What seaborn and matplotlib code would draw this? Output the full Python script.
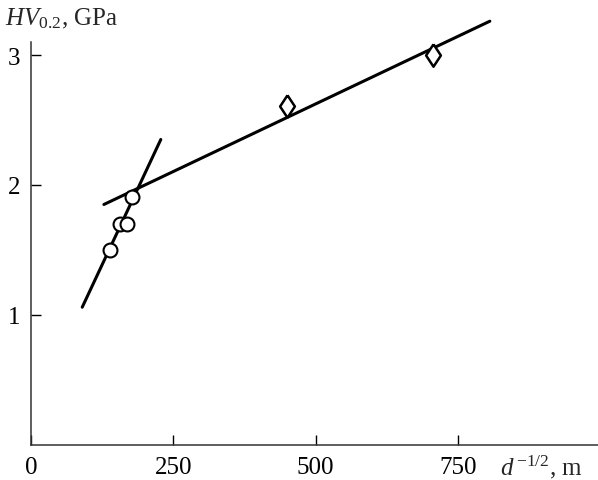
import matplotlib
matplotlib.use("Agg")
import matplotlib.pyplot as plt
import seaborn as sns
import pandas as pd

# measured points
circle_x = [139, 156, 169, 177]
circle_y = [1.50, 1.70, 1.70, 1.91]
diamond_x = [450, 707]
diamond_y = [2.61, 3.00]

# fitted lines (end points)
steep_x = [90, 228]
steep_y = [1.06, 2.35]
flat_x = [128, 806]
flat_y = [1.85, 3.26]

x_ticks = [0, 250, 500, 750]
y_ticks = [1, 2, 3]

sns.set_style("ticks")
plt.rcParams['font.family'] = ['Liberation Serif', 'DejaVu Serif']
plt.rcParams['mathtext.fontset'] = 'custom'
plt.rcParams['mathtext.rm'] = 'Liberation Serif'
plt.rcParams['mathtext.it'] = 'Liberation Serif:italic'

fig = plt.figure(figsize=(5.98, 4.81), dpi=100)
ax = fig.add_axes([31 / 598, 35 / 481, 1 - 31 / 598, 403 / 481])

lines = pd.DataFrame({
    "x": steep_x + flat_x,
    "y": steep_y + flat_y,
    "fit": ["steep"] * 2 + ["flat"] * 2,
})
sns.lineplot(data=lines, x="x", y="y", units="fit", estimator=None,
             color="black", linewidth=2.2, ax=ax, legend=False)
for ln in ax.lines:
    ln.set_clip_on(False)

# wider diamond, like the one in the print
diamond = [(0, 1), (0.66, 0), (0, -1), (-0.66, 0), (0, 1)]

sns.scatterplot(x=circle_x, y=circle_y, marker="o", s=100, facecolor="white",
                edgecolor="black", linewidth=1.5, ax=ax, zorder=3)
sns.scatterplot(x=diamond_x, y=diamond_y, marker=diamond, s=260, facecolor="white",
                edgecolor="black", linewidth=1.8, ax=ax, zorder=3)

ax.set_xlim(0, 996)
ax.set_ylim(0, 3.1)
ax.set_xticks(x_ticks)
ax.set_yticks(y_ticks)
ax.tick_params(direction="in", length=7, width=1, labelsize=18, pad=8, colors="black")
ax.set_xlabel("")
ax.set_ylabel("")
sns.despine(ax=ax)
for side in ["left", "bottom"]:
    ax.spines[side].set_linewidth(1.1)
    ax.spines[side].set_color("#333333")

fig.text(5 / 598, 1 - 19 / 481, r"$\mathit{HV}_{\mathrm{0.2}}$, GPa",
         fontsize=18, va="center", ha="left")
fig.text(500 / 598, 1 - 467 / 481, r"$\mathit{d}^{\,\mathrm{-1/2}}$, m",
         fontsize=18, va="center", ha="left")

fig.savefig("out.png", dpi=100)
